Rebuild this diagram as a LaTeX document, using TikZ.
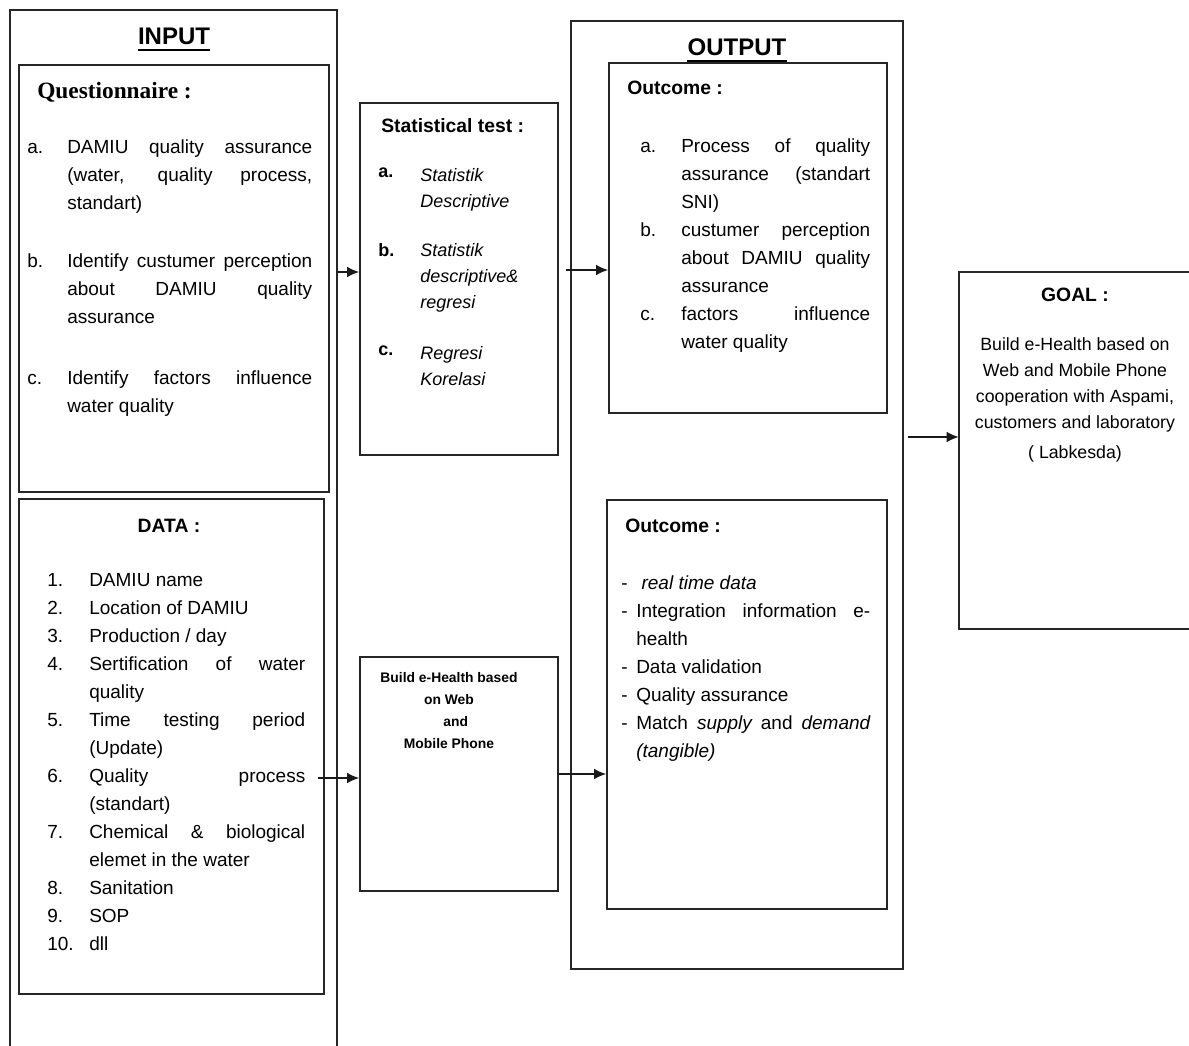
\documentclass[tikz,border=0pt]{standalone}
\usepackage{fontspec}
\setmainfont{Liberation Sans}
\newfontfamily\qserif{Liberation Serif}
\usetikzlibrary{arrows.meta,fit}
\newcommand{\lbl}[2]{\hangindent=#1\hangafter=1\hyphenpenalty=10000\noindent\makebox[#1][l]{#2}}

\begin{document}
\begin{tikzpicture}[x=0.75pt,y=-0.75pt,
  boxline/.style={draw=black!85,line width=1.25pt},
  box/.style={boxline,inner sep=0pt},
  area/.style={inner sep=0pt},
  title/.style={font=\bfseries\fontsize{18}{20}\selectfont,inner sep=0pt,anchor=base},
  head/.style={font=\bfseries\fontsize{14.5}{17}\selectfont,inner sep=0pt,anchor=base west},
  body/.style={font=\fontsize{14.25}{21}\selectfont,inner sep=0pt,anchor=north west,align=justify},
  statlbl/.style={font=\bfseries\fontsize{13.5}{19.5}\selectfont,inner sep=0pt,anchor=north west},
  stattxt/.style={font=\itshape\fontsize{13.5}{19.5}\selectfont,inner sep=0pt,anchor=north west,align=left},
  arr/.style={-{Latex[length=9pt,width=8pt]},line width=1.2pt,draw=black!90}]
\useasboundingbox (0,0) rectangle (1189,1046);

% input side
\node[area,fit={(10,10) (337,1046)}] (input) {};
\draw[boxline] (input.south west) |- (input.north east) -- (input.south east);
\node[title] (intitle) at (174,44) {INPUT};
\draw[line width=1.4pt] ([yshift=-4.5pt]intitle.base west) -- ([yshift=-4.5pt]intitle.base east);

\node[box,fit={(19,65) (329,492)}] (quest) {};
\node[anchor=base west,inner sep=0pt,font=\qserif\bfseries\fontsize{17.5}{20}\selectfont] (questhead) at (37,98) {Questionnaire :};
\node[body,text width=213.75pt] (qa) at (27,139) {\lbl{30pt}{a.}DAMIU quality assurance\linebreak (water, quality process,\linebreak standart)\par};
\node[body,text width=213.75pt] (qb) at (27,253) {\lbl{30pt}{b.}Identify custumer perception\linebreak about DAMIU quality\linebreak assurance\par};
\node[body,text width=213.75pt] (qc) at (27,370) {\lbl{30pt}{c.}Identify factors influence\linebreak water quality\par};

\node[box,fit={(19,499) (324,994)}] (data) {};
\node[head,anchor=base] (datahead) at (169,532) {DATA :};
\node[body,text width=193.5pt] (datalist) at (47,573) {%
\lbl{31.5pt}{1.}DAMIU name\par
\lbl{31.5pt}{2.}Location of DAMIU\par
\lbl{31.5pt}{3.}Production / day\par
\lbl{31.5pt}{4.}Sertification of water\linebreak quality\par
\lbl{31.5pt}{5.}Time testing period\linebreak (Update)\par
\lbl{31.5pt}{6.}Quality process\linebreak (standart)\par
\lbl{31.5pt}{7.}Chemical \& biological\linebreak elemet in the water\par
\lbl{31.5pt}{8.}Sanitation\par
\lbl{31.5pt}{9.}SOP\par
\lbl{31.5pt}{10.}dll\par};

% middle column
\node[box,fit={(360,103) (558,455)}] (stat) {};
\node[head] (stathead) at (381,132) {Statistical test :};
\node[statlbl] (sa-l) at (378,168) {a.};
\node[stattxt] (sa) at (420,168) {Statistik\\Descriptive};
\node[statlbl] (sb-l) at (378,243) {b.};
\node[stattxt] (sb) at (420,243) {Statistik\\descriptive\&\\regresi};
\node[statlbl] (sc-l) at (378,346) {c.};
\node[stattxt] (sc) at (420,346) {Regresi\\Korelasi};

\node[box,fit={(360,657) (558,891)}] (build) {};
\node[font=\bfseries\fontsize{10.4}{16.5}\selectfont,align=center,inner sep=0pt,anchor=north] (buildtxt) at (449,672) {Build e-Health based\\on Web\\\hspace*{10pt}and\\Mobile Phone};

% output side
\node[box,fit={(571,21) (903,969)}] (output) {};
\node[title] (outtitle) at (737,55) {OUTPUT};
\draw[line width=1.4pt] ([yshift=-4.5pt]outtitle.base west) -- ([yshift=-4.5pt]outtitle.base east);

\node[box,fit={(609,63) (887,413)}] (out1) {};
\node[head] (out1head) at (627,94) {Outcome :};
\node[body,text width=172.5pt] (out1list) at (640,138) {%
\lbl{30.75pt}{a.}Process of quality\linebreak assurance (standart\linebreak SNI)\par
\lbl{30.75pt}{b.}custumer perception\linebreak about DAMIU quality\linebreak assurance\par
\lbl{30.75pt}{c.}factors influence\linebreak water quality\par};

\node[box,fit={(607,500) (887,909)}] (out2) {};
\node[head] (out2head) at (625,532) {Outcome :};
\node[body,text width=186.75pt] (out2list) at (621,575) {%
\lbl{11.25pt}{-}\hspace{4pt}{\itshape real time data}\par
\lbl{11.25pt}{-}Integration information e-\linebreak health\par
\lbl{11.25pt}{-}Data validation\par
\lbl{11.25pt}{-}Quality assurance\par
\lbl{11.25pt}{-}Match {\itshape supply} and {\itshape demand}\linebreak {\itshape (tangible)}\par};

% goal
\node[area,fit={(959,272) (1191,629)}] (goal) {};
\draw[boxline] (goal.north east) -| (goal.south west) -- (goal.south east);
\node[head,anchor=base] (goalhead) at (1075,301) {GOAL :};
\node[font=\fontsize{13.3}{19.5}\selectfont,align=center,inner sep=0pt,anchor=north] (goaltxt) at (1075,337) {Build e-Health based on\\Web and Mobile Phone\\cooperation with Aspami,\\customers and laboratory\\[3pt]( Labkesda)};

% connectors
\coordinate (inR) at (337,272);
\coordinate (statR) at (566,270);
\coordinate (dataR) at (318,778);
\coordinate (outR) at (908,437);
\draw[arr] (inR) -- (inR -| stat.west);
\draw[arr] (statR) -- (statR -| out1.west);
\draw[arr] (dataR) -- (dataR -| build.west);
\draw[arr] (build.east) -- (build.east -| out2.west);
\draw[arr] (outR) -- (outR -| goal.west);
\end{tikzpicture}
\end{document}
